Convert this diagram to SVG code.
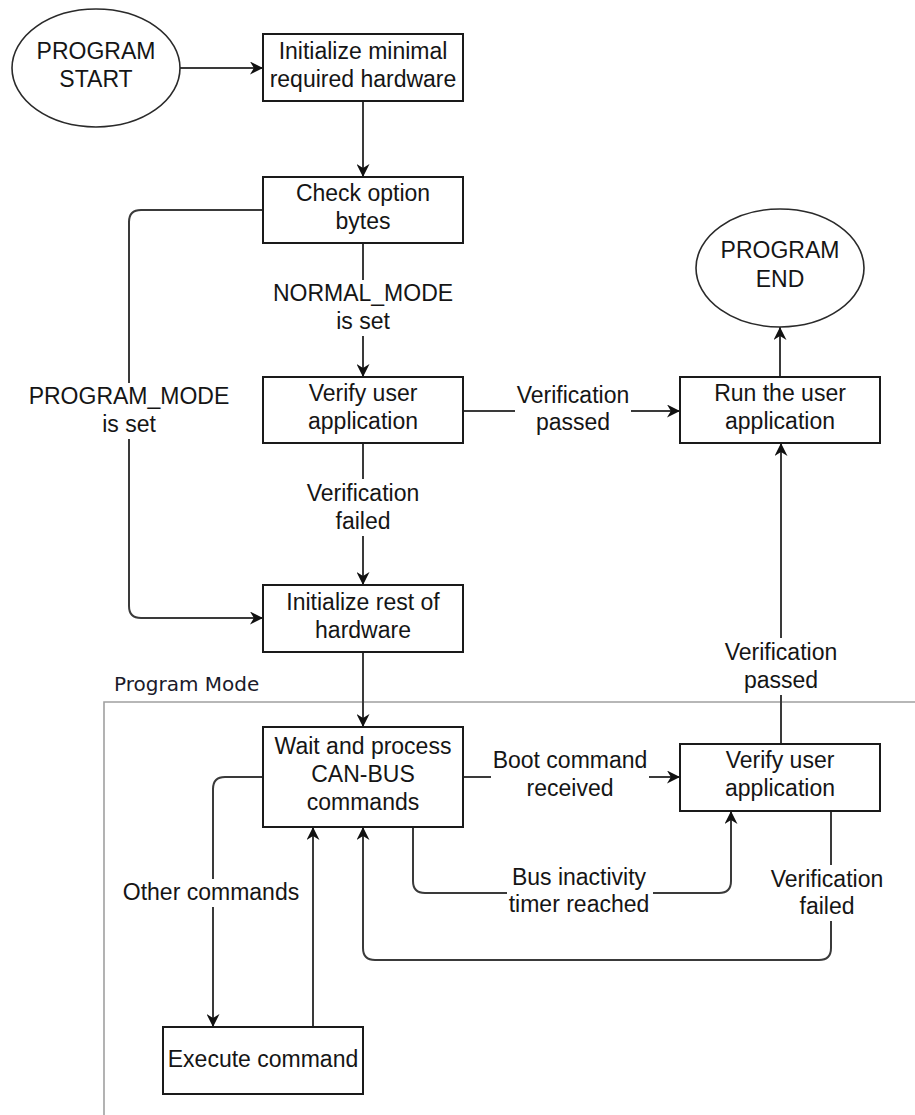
<svg xmlns="http://www.w3.org/2000/svg" width="915" height="1115" viewBox="0 0 915 1115">
  <style>
    .box { fill: #ffffff; stroke: #1a1a1a; stroke-width: 2; }
    .term { fill: #ffffff; stroke: #2a2a2a; stroke-width: 1.6; }
    .edge { fill: none; stroke: #3a3a3a; stroke-width: 2; }
    .arrow { marker-end: url(#head); }
    .frame { fill: none; stroke: #a0a0a0; stroke-width: 1.6; }
    .lbl-bg { fill: #ffffff; }
    text { font-family: "Liberation Sans", Arial, sans-serif; font-size: 23px; fill: #151515; text-anchor: middle; }
    .mode { font-family: "DejaVu Sans", Verdana, sans-serif; font-size: 20px; text-anchor: start; fill: #1a1a2a; }
  </style>
  <defs>
    <marker id="head" viewBox="0 0 10 10" refX="10" refY="5" markerUnits="userSpaceOnUse" markerWidth="13" markerHeight="13" orient="auto">
      <path d="M0,0 L10,5 L0,10 L3,5 Z" fill="#111111"/>
    </marker>
  </defs>

  <rect x="0" y="0" width="915" height="1115" fill="#ffffff"/>

  <!-- Program Mode region -->
  <g id="program-mode-frame">
    <path class="frame" d="M104,1115 V702 H915"/>
    <text class="mode" x="114" y="691">Program Mode</text>
  </g>

  <!-- Connectors -->
  <g id="connectors">
    <path class="edge arrow" d="M180,68 H263"/>
    <path class="edge arrow" d="M363,101 V177"/>
    <path class="edge arrow" d="M363,243 V377"/>
    <path class="edge arrow" d="M263,210 H141 Q129,210 129,222 V606 Q129,618 141,618 H263"/>
    <path class="edge arrow" d="M363,443 V585"/>
    <path class="edge arrow" d="M463,411 H680"/>
    <path class="edge arrow" d="M780,377 V327"/>
    <path class="edge arrow" d="M363,652 V727"/>
    <path class="edge arrow" d="M463,777 H680"/>
    <path class="edge arrow" d="M781,744 V443"/>
    <path class="edge arrow" d="M413,827 V881 Q413,893 425,893 H719 Q731,893 731,881 V811"/>
    <path class="edge arrow" d="M831,811 V948 Q831,960 819,960 H375 Q363,960 363,948 V827"/>
    <path class="edge arrow" d="M263,777 H225 Q213,777 213,789 V1027"/>
    <path class="edge arrow" d="M313,1027 V827"/>

    <!-- connector labels -->
    <g id="lbl-normal-mode">
      <rect class="lbl-bg" x="290" y="280" width="146" height="56"/>
      <text x="363" y="301">NORMAL_MODE</text>
      <text x="363" y="329">is set</text>
    </g>
    <g id="lbl-program-mode">
      <rect class="lbl-bg" x="28" y="383" width="202" height="56"/>
      <text x="129" y="404">PROGRAM_MODE</text>
      <text x="129" y="432">is set</text>
    </g>
    <g id="lbl-verify-failed-1">
      <rect class="lbl-bg" x="303" y="479" width="120" height="57"/>
      <text x="363" y="501">Verification</text>
      <text x="363" y="529">failed</text>
    </g>
    <g id="lbl-verify-passed-1">
      <rect class="lbl-bg" x="515" y="381" width="116" height="56"/>
      <text x="573" y="403">Verification</text>
      <text x="573" y="430">passed</text>
    </g>
    <g id="lbl-boot">
      <rect class="lbl-bg" x="491" y="747" width="158" height="56"/>
      <text x="570" y="768">Boot command</text>
      <text x="570" y="796">received</text>
    </g>
    <g id="lbl-verify-passed-2">
      <rect class="lbl-bg" x="721" y="638" width="120" height="57"/>
      <text x="781" y="660">Verification</text>
      <text x="781" y="688">passed</text>
    </g>
    <g id="lbl-bus-timer">
      <rect class="lbl-bg" x="507" y="864" width="146" height="56"/>
      <text x="579" y="885">Bus inactivity</text>
      <text x="579" y="912">timer reached</text>
    </g>
    <g id="lbl-verify-failed-2">
      <rect class="lbl-bg" x="767" y="865" width="120" height="56"/>
      <text x="827" y="887">Verification</text>
      <text x="827" y="914">failed</text>
    </g>
    <g id="lbl-other">
      <rect class="lbl-bg" x="120" y="879" width="183" height="28"/>
      <text x="211" y="900">Other commands</text>
    </g>
  </g>

  <!-- Nodes -->
  <g id="program-start">
    <ellipse class="term" cx="96" cy="68" rx="84" ry="59"/>
    <text x="96" y="59">PROGRAM</text>
    <text x="96" y="87">START</text>
  </g>
  <g id="init-minimal">
    <rect class="box" x="263" y="34" width="200" height="67"/>
    <text x="363" y="59">Initialize minimal</text>
    <text x="363" y="87">required hardware</text>
  </g>
  <g id="check-option">
    <rect class="box" x="263" y="177" width="200" height="66"/>
    <text x="363" y="201">Check option</text>
    <text x="363" y="229">bytes</text>
  </g>
  <g id="verify-app-1">
    <rect class="box" x="263" y="377" width="200" height="66"/>
    <text x="363" y="401">Verify user</text>
    <text x="363" y="429">application</text>
  </g>
  <g id="run-app">
    <rect class="box" x="680" y="377" width="200" height="66"/>
    <text x="780" y="401">Run the user</text>
    <text x="780" y="429">application</text>
  </g>
  <g id="program-end">
    <ellipse class="term" cx="780" cy="268" rx="84" ry="59"/>
    <text x="780" y="258">PROGRAM</text>
    <text x="780" y="287">END</text>
  </g>
  <g id="init-rest">
    <rect class="box" x="263" y="585" width="200" height="67"/>
    <text x="363" y="610">Initialize rest of</text>
    <text x="363" y="638">hardware</text>
  </g>
  <g id="wait-process">
    <rect class="box" x="263" y="727" width="200" height="100"/>
    <text x="363" y="754">Wait and process</text>
    <text x="363" y="782">CAN-BUS</text>
    <text x="363" y="810">commands</text>
  </g>
  <g id="verify-app-2">
    <rect class="box" x="680" y="744" width="200" height="67"/>
    <text x="780" y="768">Verify user</text>
    <text x="780" y="796">application</text>
  </g>
  <g id="execute-command">
    <rect class="box" x="163" y="1027" width="200" height="67"/>
    <text x="263" y="1067">Execute command</text>
  </g>
</svg>
